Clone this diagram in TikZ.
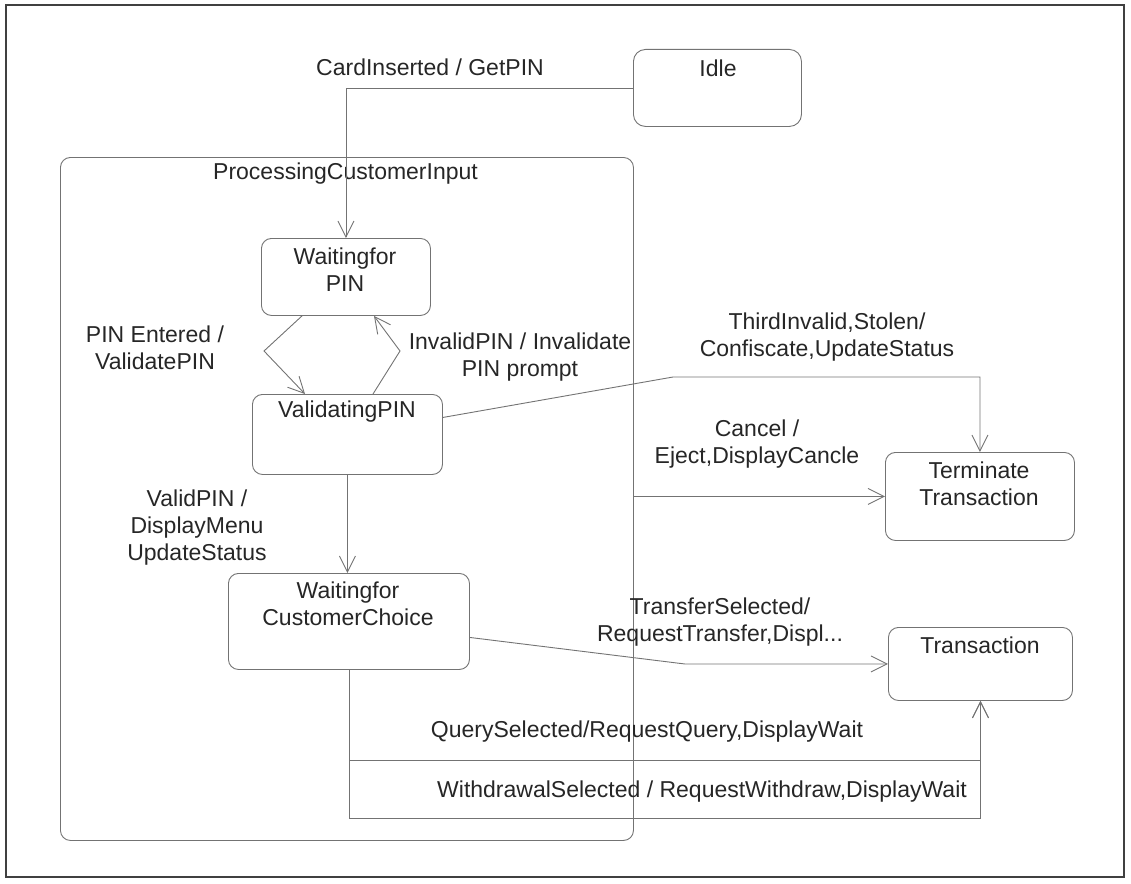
\documentclass[tikz,border=0pt]{standalone}
\usepackage{fontspec}
\setmainfont{Liberation Sans}
\usetikzlibrary{arrows.meta}
\begin{document}
\begin{tikzpicture}[x=1pt,y=-1pt,
  every node/.style={font=\fontsize{23}{27}\selectfont, text=black!85, inner sep=0pt, align=center},
  statebox/.style={draw=black!55, line width=0.9pt, rounded corners=10pt, anchor=north west},
  trans/.style={draw=black!55, line width=0.9pt},
  tarrow/.style={trans, -{Straight Barb[length=16pt,width=16pt]}},
]
\useasboundingbox (0,0) rectangle (1131,883);
% page frame
\draw[black!75, line width=1.8pt] (6,5) rectangle (1124,877);

% composite state
\node[statebox, minimum width=573pt, minimum height=683pt] (proc) at (60,157) {};
\node[anchor=west] (proctitle) at (213,174) {ProcessingCustomerInput};

% states
\node[statebox, rounded corners=12pt, minimum width=168pt, minimum height=77pt] (idle) at (633,49) {};
\node[statebox, minimum width=169pt, minimum height=77pt] (waitpin) at (261,238) {};
\node[statebox, minimum width=190pt, minimum height=80pt] (valpin) at (252,394) {};
\node[statebox, minimum width=241pt, minimum height=96pt] (waitcust) at (228,573) {};
\node[statebox, minimum width=189pt, minimum height=88pt] (term) at (885,452) {};
\node[statebox, minimum width=184pt, minimum height=73pt] (trans) at (888,627) {};

% state names
\node (idletxt) at (718,68) {Idle};
\node (waitpintxt) at (345,270) {Waitingfor\\PIN};
\node (valpintxt) at (347,412) {ValidatingPIN};
\node (waitcusttxt) at (348,604) {Waitingfor\\CustomerChoice};
\node (termtxt) at (979,484) {Terminate\\Transaction};
\node (transtxt) at (980,645) {Transaction};

% transition labels
\node (l1) at (430,67) {CardInserted / GetPIN};
\node (l2) at (155,348) {PIN Entered /\\ValidatePIN};
\node (l3) at (520,357) {InvalidPIN / Invalidate\\PIN prompt};
\node (l4) at (827,337) {ThirdInvalid,Stolen/\\Confiscate,UpdateStatus};
\node (l5) at (757,444) {Cancel /\\Eject,DisplayCancle};
\node (l6) at (197,528) {ValidPIN /\\DisplayMenu\\UpdateStatus};
\node (l7) at (720,622) {TransferSelected/\\RequestTransfer,Displ...};
\node (l8) at (647,732) {QuerySelected/RequestQuery,DisplayWait};
\node (l9) at (702,792) {WithdrawalSelected / RequestWithdraw,DisplayWait};

% helper points
\coordinate (pe) at (264,351);
\coordinate (ip) at (400,351);
\coordinate (tib) at (673,377);
\coordinate (tsb) at (685,664);
\coordinate (qrow) at (0,760);
\coordinate (wrow) at (0,818);

% transitions
\draw[tarrow] (idle.west) -| (waitpin.north);
\draw[tarrow] ([xshift=41pt]waitpin.south west) -- (pe) -- ([xshift=53pt]valpin.north west);
\draw[tarrow] ([xshift=121pt]valpin.north west) -- (ip) -- ([xshift=113pt]waitpin.south west);
\draw[tarrow] ([yshift=17pt]valpin.east) -- (tib) -| (term.north);
\draw[tarrow] (proc.east |- term.west) -- (term.west);
\draw[tarrow] (valpin.south) -- (valpin.south |- waitcust.north);
\draw[tarrow] ([yshift=-16pt]waitcust.east) -- (tsb) -- (trans.west);
\draw[tarrow] (waitcust.south) |- (trans.south |- qrow) -- (trans.south);
\draw[tarrow] (waitcust.south) |- (trans.south |- wrow) -- (trans.south);
\end{tikzpicture}
\end{document}
